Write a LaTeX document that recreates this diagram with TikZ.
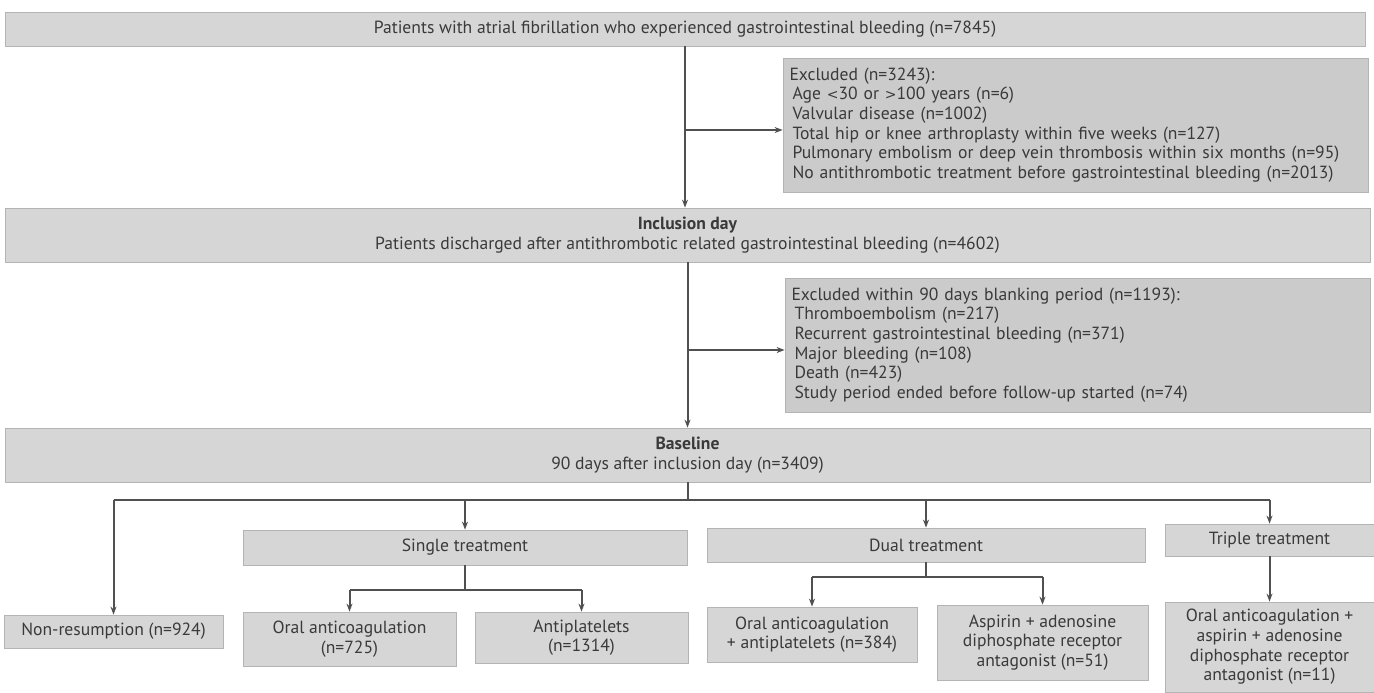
\documentclass[tikz,border=0pt]{standalone}
\usepackage{fontspec}
\setmainfont{PT Sans}
\usetikzlibrary{arrows.meta,calc}
\definecolor{boxgray}{HTML}{D6D6D6}
\definecolor{exgray}{HTML}{CBCBCB}
\definecolor{boxedge}{HTML}{B4B4B4}
\definecolor{txt}{HTML}{3A3A3A}
\definecolor{linec}{HTML}{505050}
\begin{document}
\begin{tikzpicture}[x=0.5pt,y=-0.5pt,
  box/.style={fill=boxgray, draw=boxedge, line width=0.4pt, inner sep=0pt, text=txt,
    font=\fontsize{8.8}{9.8}\selectfont, align=center},
  exbox/.style={box, fill=exgray, align=left, text width=286pt, inner xsep=3pt},
  conn/.style={draw=linec, line width=1pt},
  arr/.style={conn, -{Stealth[length=4pt,width=3pt]}}]
\useasboundingbox (0,0) rectangle (1374,692);
% main column
\node[box, minimum width=680pt, minimum height=17pt] (top) at (685,29)
  {Patients with atrial fibrillation who experienced gastrointestinal bleeding (n=7845)};
\node[exbox, minimum width=292.5pt, minimum height=67pt] (ex1) at (1075.5,125)
  {Excluded (n=3243):\\
   \hspace*{1.5pt}Age {\fontspec{DejaVu Sans}\scriptsize<}30 or {\fontspec{DejaVu Sans}\scriptsize>}100 years (n=6)\\
   \hspace*{1.5pt}Valvular disease (n=1002)\\
   \hspace*{1.5pt}Total hip or knee arthroplasty within five weeks (n=127)\\
   \hspace*{1.5pt}Pulmonary embolism or deep vein thrombosis within six months (n=95)\\
   \hspace*{1.5pt}No antithrombotic treatment before gastrointestinal bleeding (n=2013)};
\node[box, minimum width=682.5pt, minimum height=27pt] (incl) at (687.5,235)
  {\textbf{Inclusion day}\\Patients discharged after antithrombotic related gastrointestinal bleeding (n=4602)};
\node[exbox, minimum width=292.5pt, minimum height=67pt] (ex2) at (1077.5,345)
  {Excluded within 90 days blanking period (n=1193):\\
   \hspace*{1.5pt}Thromboembolism (n=217)\\
   \hspace*{1.5pt}Recurrent gastrointestinal bleeding (n=371)\\
   \hspace*{1.5pt}Major bleeding (n=108)\\
   \hspace*{1.5pt}Death (n=423)\\
   \hspace*{1.5pt}Study period ended before follow-up started (n=74)};
\node[box, minimum width=682.5pt, minimum height=27pt] (base) at (687.5,455)
  {\textbf{Baseline}\\90 days after inclusion day (n=3409)};
% treatment groups
\node[box, minimum width=222pt, minimum height=17.5pt] (single) at (465,547.5) {Single treatment};
\node[box, minimum width=219pt, minimum height=17pt] (dual) at (926,545) {Dual treatment};
\node[box, minimum width=104.5pt, minimum height=16pt] (triple) at (1269.5,540) {Triple treatment};
% leaves
\node[box, minimum width=109.5pt, minimum height=16.5pt] (nonres) at (113.5,631.5) {Non-resumption (n=924)};
\node[box, minimum width=106.5pt, minimum height=27pt] (oac) at (349.5,639) {Oral anticoagulation\\(n=725)};
\node[box, minimum width=106.5pt, minimum height=25.5pt] (anti) at (581.5,637.5) {Antiplatelets\\(n=1314)};
\node[box, minimum width=105pt, minimum height=27.5pt] (oacanti) at (812,634.5) {Oral anticoagulation\\+ antiplatelets (n=384)};
\node[box, minimum width=105.5pt, minimum height=37.5pt] (asp) at (1042.5,642.5) {Aspirin + adenosine\\diphosphate receptor\\antagonist (n=51)};
\node[box, minimum width=104.5pt, minimum height=45pt] (trip) at (1269.5,647) {Oral anticoagulation +\\aspirin + adenosine\\diphosphate receptor\\antagonist (n=11)};
% connectors
\coordinate (hb) at (686,500);
\coordinate (sb) at (465,590);
\coordinate (db) at (926,577);
\draw[arr] (top.south) -- (top.south |- incl.north);
\draw[arr] (top.south |- 0,130) -- (ex1.west |- 0,130);
\draw[arr] (incl.south) -- (incl.south |- base.north);
\draw[arr] (incl.south |- 0,350) -- (ex2.west |- 0,350);
\draw[conn] (base.south) -- (base.south |- hb);
\draw[conn] (nonres.north |- hb) -- (triple.north |- hb);
\draw[arr] (nonres.north |- hb) -- (nonres.north);
\draw[arr] (single.north |- hb) -- (single.north);
\draw[arr] (dual.north |- hb) -- (dual.north);
\draw[arr] (triple.north |- hb) -- (triple.north);
\draw[conn] (single.south) -- (single.south |- sb);
\draw[conn] (oac.north |- sb) -- (anti.north |- sb);
\draw[arr] (oac.north |- sb) -- (oac.north);
\draw[arr] (anti.north |- sb) -- (anti.north);
\draw[conn] (dual.south) -- (dual.south |- db);
\draw[conn] (oacanti.north |- db) -- (asp.north |- db);
\draw[arr] (oacanti.north |- db) -- (oacanti.north);
\draw[arr] (asp.north |- db) -- (asp.north);
\draw[arr] (triple.south) -- (trip.north);
\end{tikzpicture}
\end{document}
